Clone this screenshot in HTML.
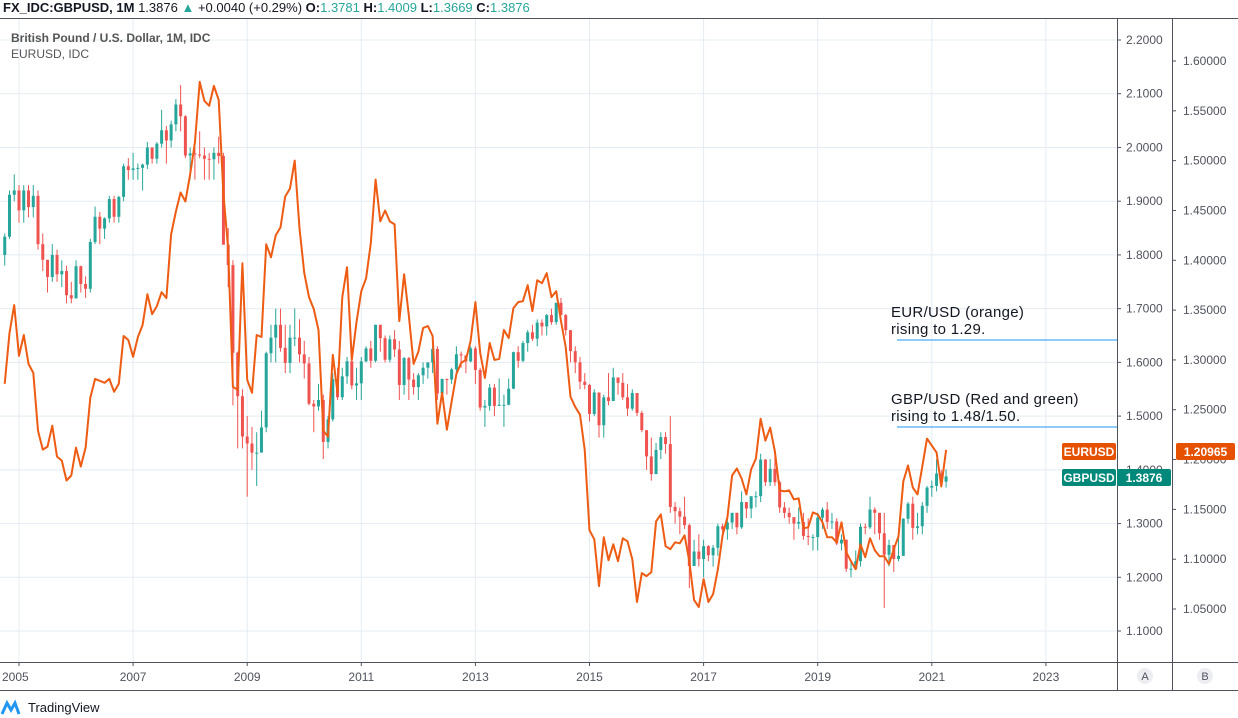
<!DOCTYPE html>
<html><head><meta charset="utf-8"><style>
html,body{margin:0;padding:0;background:#fff;width:1238px;height:718px;overflow:hidden;font-family:"Liberation Sans",sans-serif}
svg text{font-family:"Liberation Sans",sans-serif}
</style></head><body>
<svg id="c" width="1238" height="718" xmlns="http://www.w3.org/2000/svg"></svg>
<script>
const startYear = 2004, startMonth = 9; // Oct 2004 (0-based month)
const gbpClose = [1.834,1.912,1.920,
1.883,1.920,1.889,1.910,1.820,1.791,1.759,1.800,1.764,1.770,1.725,1.719,
1.779,1.746,1.737,1.824,1.871,1.849,1.868,1.904,1.871,1.908,1.965,1.958,
1.961,1.962,1.968,2.000,1.979,2.007,2.032,2.013,2.043,2.080,2.058,1.985,
1.989,1.987,1.985,1.979,1.978,1.990,1.984,1.819,1.781,1.618,1.537,1.462,
1.449,1.432,1.432,1.479,1.617,1.646,1.670,1.627,1.599,1.646,1.646,1.615,
1.598,1.523,1.518,1.530,1.452,1.494,1.569,1.535,1.574,1.602,1.557,1.561,
1.602,1.626,1.603,1.670,1.645,1.605,1.643,1.624,1.558,1.608,1.568,1.554,
1.576,1.590,1.600,1.625,1.542,1.569,1.568,1.587,1.615,1.613,1.602,1.626,
1.586,1.516,1.519,1.553,1.519,1.521,1.521,1.551,1.619,1.603,1.636,1.656,
1.644,1.674,1.667,1.688,1.675,1.711,1.688,1.660,1.621,1.600,1.564,1.558,
1.504,1.544,1.483,1.535,1.528,1.572,1.562,1.535,1.514,1.543,1.506,1.474,
1.425,1.392,1.437,1.461,1.448,1.331,1.323,1.313,1.297,1.221,1.248,1.234,
1.258,1.241,1.255,1.295,1.289,1.302,1.320,1.293,1.340,1.328,1.351,1.351,
1.419,1.377,1.402,1.377,1.330,1.320,1.312,1.300,1.303,1.277,1.275,1.275,
1.311,1.326,1.303,1.304,1.263,1.270,1.216,1.216,1.230,1.294,1.293,1.326,
1.320,1.282,1.242,1.260,1.234,1.240,1.309,1.337,1.292,1.295,1.333,1.367,
1.370,1.393,1.378,1.3876];
const gbpHigh = [1.84,1.92,1.95,
1.93,1.93,1.93,1.93,1.92,1.84,1.78,1.82,1.81,1.79,1.78,1.75,
1.79,1.78,1.76,1.83,1.89,1.88,1.87,1.91,1.91,1.91,1.97,1.98,
1.99,1.97,1.97,2.01,2.00,2.01,2.07,2.04,2.05,2.09,2.116,2.06,
2.00,2.00,2.03,2.00,1.99,2.00,2.02,1.99,1.85,1.79,1.62,1.55,
1.50,1.48,1.47,1.51,1.62,1.67,1.70,1.70,1.67,1.67,1.70,1.68,
1.64,1.61,1.53,1.56,1.54,1.50,1.58,1.59,1.59,1.61,1.62,1.59,
1.61,1.63,1.64,1.67,1.67,1.65,1.65,1.66,1.64,1.61,1.61,1.58,
1.58,1.60,1.60,1.63,1.63,1.57,1.57,1.59,1.63,1.62,1.61,1.63,
1.63,1.59,1.53,1.56,1.56,1.57,1.54,1.57,1.62,1.63,1.64,1.66,
1.67,1.68,1.68,1.69,1.70,1.71,1.72,1.69,1.66,1.63,1.61,1.58,
1.56,1.55,1.54,1.54,1.58,1.59,1.57,1.58,1.56,1.55,1.54,1.51,
1.47,1.46,1.45,1.47,1.47,1.50,1.34,1.33,1.35,1.30,1.27,1.28,
1.27,1.26,1.26,1.30,1.30,1.31,1.32,1.32,1.36,1.34,1.35,1.36,
1.43,1.42,1.42,1.44,1.38,1.34,1.33,1.31,1.33,1.32,1.31,1.28,
1.32,1.33,1.34,1.32,1.31,1.28,1.27,1.23,1.25,1.30,1.30,1.35,
1.33,1.32,1.32,1.27,1.26,1.28,1.31,1.34,1.35,1.32,1.34,1.37,
1.38,1.42,1.40,1.4009];
const gbpLow = [1.78,1.83,1.90,
1.86,1.86,1.87,1.87,1.81,1.77,1.73,1.75,1.75,1.74,1.71,1.71,
1.72,1.73,1.72,1.73,1.82,1.82,1.83,1.86,1.86,1.86,1.90,1.94,
1.94,1.94,1.92,1.96,1.97,1.97,2.00,1.97,2.00,2.03,2.03,1.98,
1.94,1.94,1.98,1.94,1.94,1.94,1.97,1.82,1.74,1.52,1.44,1.44,
1.35,1.40,1.37,1.44,1.47,1.60,1.60,1.62,1.58,1.58,1.63,1.60,
1.57,1.52,1.47,1.51,1.42,1.44,1.49,1.53,1.53,1.56,1.55,1.53,
1.53,1.60,1.59,1.60,1.62,1.60,1.60,1.61,1.53,1.54,1.53,1.54,
1.53,1.56,1.57,1.58,1.53,1.53,1.54,1.56,1.58,1.59,1.58,1.60,
1.56,1.51,1.48,1.51,1.50,1.52,1.48,1.52,1.55,1.59,1.60,1.62,
1.64,1.63,1.65,1.65,1.67,1.67,1.69,1.65,1.60,1.58,1.55,1.55,
1.49,1.50,1.46,1.46,1.52,1.53,1.54,1.53,1.50,1.51,1.50,1.47,
1.40,1.38,1.40,1.42,1.43,1.32,1.30,1.28,1.29,1.18,1.23,1.22,
1.20,1.23,1.22,1.24,1.28,1.27,1.29,1.28,1.29,1.31,1.31,1.33,
1.34,1.37,1.37,1.37,1.32,1.31,1.30,1.27,1.29,1.27,1.26,1.25,
1.25,1.29,1.29,1.29,1.26,1.25,1.21,1.20,1.22,1.22,1.28,1.29,
1.28,1.27,1.143,1.22,1.21,1.23,1.24,1.30,1.27,1.28,1.28,1.32,
1.35,1.36,1.37,1.3669];
const eurClose = [1.276,1.327,1.355,
1.304,1.325,1.296,1.287,1.229,1.210,1.213,1.234,1.203,1.199,1.179,1.184,
1.212,1.193,1.212,1.262,1.281,1.279,1.277,1.281,1.268,1.276,1.324,1.320,
1.303,1.323,1.335,1.366,1.346,1.354,1.368,1.362,1.426,1.449,1.468,1.459,
1.486,1.518,1.579,1.560,1.555,1.575,1.561,1.467,1.411,1.273,1.270,1.397,
1.280,1.267,1.325,1.323,1.416,1.403,1.425,1.433,1.464,1.472,1.500,1.432,
1.387,1.363,1.351,1.330,1.229,1.223,1.305,1.267,1.363,1.393,1.300,1.338,
1.369,1.382,1.417,1.481,1.439,1.450,1.439,1.436,1.339,1.386,1.345,1.296,
1.308,1.332,1.334,1.324,1.236,1.267,1.230,1.258,1.286,1.297,1.300,1.319,
1.358,1.307,1.282,1.317,1.300,1.301,1.330,1.322,1.352,1.358,1.359,1.375,
1.349,1.380,1.377,1.387,1.363,1.369,1.339,1.313,1.263,1.253,1.245,1.210,
1.129,1.120,1.073,1.122,1.099,1.115,1.098,1.121,1.118,1.100,1.057,1.086,
1.083,1.087,1.138,1.145,1.113,1.110,1.117,1.116,1.124,1.098,1.059,1.052,
1.080,1.057,1.065,1.090,1.124,1.142,1.184,1.191,1.181,1.165,1.190,1.201,
1.241,1.219,1.232,1.208,1.169,1.168,1.169,1.160,1.161,1.131,1.132,1.147,
1.145,1.137,1.122,1.122,1.117,1.137,1.107,1.098,1.090,1.115,1.102,1.121,
1.109,1.103,1.103,1.095,1.110,1.123,1.178,1.194,1.172,1.165,1.193,1.221,
1.214,1.207,1.173,1.20965];
const gbpTicks = [1.1,1.2,1.3,1.4,1.5,1.6,1.7,1.8,1.9,2.0,2.1,2.2];
const eurTicks = [1.05,1.10,1.15,1.20,1.25,1.30,1.35,1.40,1.45,1.50,1.55,1.60];
const yearTicks = [2005,2007,2009,2011,2013,2015,2017,2019,2021,2023];

const NS='http://www.w3.org/2000/svg';
const svg=document.getElementById('c');
function el(tag,attrs,parent){const e=document.createElementNS(NS,tag);for(const k in attrs)e.setAttribute(k,attrs[k]);(parent||svg).appendChild(e);return e;}
const xOfYear=y=>19+(y-2005)*57.05;
const xOfIdx=i=>xOfYear(startYear+(startMonth+i)/12);
const yG=v=>40+(2.2-v)*537.3;
const yE=v=>61+(1.6-v)*996.4;
const PR=1117;

// grid
const grid=el('g',{});


gbpTicks.forEach(t=>{el('line',{x1:0,x2:PR,y1:yG(t),y2:yG(t),stroke:'#e4ecf3','stroke-width':1},grid);});
yearTicks.forEach(t=>{el('line',{x1:xOfYear(t),x2:xOfYear(t),y1:18,y2:662,stroke:'#e4ecf3','stroke-width':1},grid);});

// candles
const cg=el('g',{});


gbpClose.forEach((c,i)=>{
  const o=i===0?1.80:gbpClose[i-1];
  const col=c>=o?'#26a69a':'#ef5350';
  const x=xOfIdx(i);
  const ln=el('line',{x1:x,x2:x,y1:yG(gbpHigh[i]),y2:yG(gbpLow[i]),stroke:col,'stroke-width':1},cg);
  
  
  const top=yG(Math.max(o,c)),bot=yG(Math.min(o,c));
  const r=el('rect',{x:x-1.5,y:top,width:3,height:Math.max(1,bot-top),fill:col},cg);
  
  
});

// eur line
const pts=eurClose.map((v,i)=>xOfIdx(i).toFixed(1)+','+yE(v).toFixed(1)).join(' ');
const pl=el('polyline',{points:pts,fill:'none',stroke:'#ee5b12','stroke-width':2,'stroke-linejoin':'round'});



// annotations
const ann=[[897,340,'EUR/USD (orange)','rising to 1.29.',306],[897,427,'GBP/USD (Red and green)','rising to 1.48/1.50.',393]];
ann.forEach((a,k)=>{
  const l=el('line',{x1:a[0],x2:PR,y1:a[1],y2:a[1],stroke:'#2196f3','stroke-width':1});
  
  
  const t=el('text',{x:891,y:a[4]+11,'font-size':15,fill:'#131722','letter-spacing':'0.3'});t.textContent=a[2];
  
  
  const t2=el('text',{x:891,y:a[4]+28,'font-size':15,fill:'#131722','letter-spacing':'0.3'});t2.textContent=a[3];
  
  
});

// axes
el('line',{x1:PR+0.5,x2:PR+0.5,y1:18,y2:691,stroke:'#50535e','stroke-width':1});
el('line',{x1:1172.5,x2:1172.5,y1:18,y2:691,stroke:'#50535e','stroke-width':1});
el('line',{x1:0,x2:1238,y1:662.5,y2:662.5,stroke:'#50535e','stroke-width':1});
el('line',{x1:0,x2:1238,y1:690.5,y2:690.5,stroke:'#50535e','stroke-width':1});
gbpTicks.forEach(t=>{
  el('line',{x1:PR,x2:PR+4,y1:yG(t),y2:yG(t),stroke:'#50535e'});
  const tx=el('text',{x:1126,y:yG(t)+4,'font-size':12,fill:'#50535e'});tx.textContent=t.toFixed(4);
  
  
});
eurTicks.forEach(t=>{
  el('line',{x1:1172,x2:1176,y1:yE(t),y2:yE(t),stroke:'#50535e'});
  const tx=el('text',{x:1183,y:yE(t)+4,'font-size':12,fill:'#50535e'});tx.textContent=t.toFixed(5);
  
  
});
yearTicks.forEach(t=>{
  const x=xOfYear(t);
  el('line',{x1:x,x2:x,y1:662,y2:666,stroke:'#50535e'});
  const tx=el('text',{x:x,y:681,'font-size':12,fill:'#50535e','text-anchor':x<25?'start':'middle'});tx.textContent=t;
  if(x<25)tx.setAttribute('x',2);
  
  
});
// A / B
[[1145,'A'],[1205,'B']].forEach(a=>{
  const c=el('circle',{cx:a[0],cy:676,r:8,fill:'#eceef2'});
  
  
  const t=el('text',{x:a[0],y:680,'font-size':11,fill:'#50535e','text-anchor':'middle'});t.textContent=a[1];
});
// price tags
function tag(x,y,w,col,txt,name){
  const r=el('rect',{x:x,y:y,width:w,height:17,rx:2,fill:col});
  
  
  const t=el('text',{x:x+w/2,y:y+13,'font-size':12,'font-weight':'bold',fill:'#fff','text-anchor':'middle'});t.textContent=txt;
}
tag(1062,443,54,'#e65100','EURUSD','eurusd-name-tag');
tag(1176,443,59,'#e65100','1.20965','eurusd-price-tag');
tag(1062,469,54,'#00897b','GBPUSD','gbpusd-name-tag');
tag(1117,469,54,'#00897b','1.3876','gbpusd-price-tag');

// header
const h=el('text',{x:3,y:12,'font-size':13,fill:'#131722'});


h.innerHTML='<tspan font-weight="bold">FX_IDC:GBPUSD, 1M</tspan> 1.3876 <tspan fill="#26a69a">▲</tspan> +0.0040 (+0.29%) <tspan font-weight="bold">O:</tspan><tspan fill="#26a69a">1.3781</tspan> <tspan font-weight="bold">H:</tspan><tspan fill="#26a69a">1.4009</tspan> <tspan font-weight="bold">L:</tspan><tspan fill="#26a69a">1.3669</tspan> <tspan font-weight="bold">C:</tspan><tspan fill="#26a69a">1.3876</tspan>';
el('line',{x1:0,x2:1238,y1:18.5,y2:18.5,stroke:'#50535e'});
const l1=el('text',{x:11,y:42,'font-size':12,'font-weight':'bold',fill:'#555'});l1.textContent='British Pound / U.S. Dollar, 1M, IDC';


const l2=el('text',{x:11,y:58,'font-size':12,fill:'#555'});l2.textContent='EURUSD, IDC';


// logo
const lg=el('g',{});


el('path',{d:'M2 714 L7 703 L11 710 L15 703 L19 714',fill:'none',stroke:'#2196f3','stroke-width':3},lg);
const lt=el('text',{x:28,y:712,'font-size':13,fill:'#131722'},lg);lt.textContent='TradingView';
</script>
</body></html>
